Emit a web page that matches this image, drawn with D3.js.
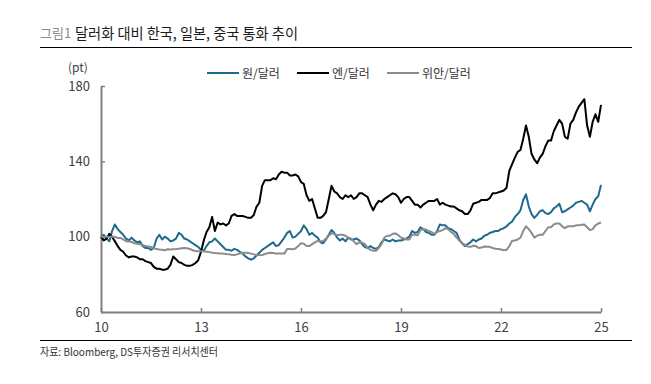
<!DOCTYPE html>
<html>
<head>
<meta charset="utf-8">
<script src="https://cdn.jsdelivr.net/npm/d3@7"></script>
<style>
  body { margin: 0; background: #fff; }
  text { font-family: "Noto Sans CJK KR", "Noto Sans", sans-serif; }
</style>
</head>
<body>
<div id="chart"></div>
<script>
// monthly index values, Jan 2010 = 100, last point = start of 2025
var startYear = 2010;

var won = [
  100, 101, 99, 97.5, 103, 106.5, 104, 102.5, 101, 99, 98, 99.5,
  98, 97, 97.5, 95, 94, 94, 93, 94, 99, 101, 98.5, 100,
  99, 97.5, 98, 99, 102, 101, 99, 98.5, 97.5, 96.5, 95.5, 94.5,
  93, 92.5, 95, 97, 97.5, 99, 97.5, 96, 94.5, 93, 93, 92.5,
  93.5, 93, 92, 91, 89.5, 88.5, 87.8, 88.5, 90, 91.5, 93, 94,
  95, 96, 97, 95, 95.5, 97.5, 99.5, 102, 103, 99.5, 100, 101.5,
  103, 106, 104, 101, 102, 100.5, 99.5, 97, 96.5, 98.5, 101, 103.5,
  102, 99.5, 98, 99, 97.5, 99.5, 98.5, 98.5, 99, 98, 96, 94.5,
  94, 95, 94, 93.5, 94.5, 97, 98.5, 98, 97.5, 98.5, 97.5, 98,
  98, 98.5, 99, 100, 103, 102, 102.5, 105, 104, 102.5, 102, 101,
  101, 103, 106.5, 106, 106, 104.5, 104, 103, 102, 98.5, 96.5, 95,
  96, 97, 98.5, 97.5, 98.5, 99, 100.5, 101, 102, 102.5, 103, 103,
  104, 104.5, 105.5, 107, 108, 110.5, 112, 114, 119.5, 122.5, 116, 112,
  110, 111.5, 113.5, 114, 112.5, 112, 113, 115, 116, 117.5, 113, 113.5,
  114.5, 115.5, 116.5, 118, 118.5, 119, 118, 117, 113.5, 117, 120, 121.5,
  127.5
];

var yen = [
  100, 98, 99, 101.5, 100, 97.5, 95, 93, 92, 90, 89, 89.5,
  89.5, 89, 88, 88, 87, 86.5, 86, 84, 83, 83, 82.5, 82.5,
  83, 85, 89.5, 88, 86.5, 86, 85, 84.5, 84.5, 85, 86, 87.5,
  92, 98, 102.5, 105, 110.5, 103, 107.5, 106.5, 107, 106, 107, 111,
  112, 111, 111, 111, 110.5, 110, 110, 111.5, 116, 118, 127, 130,
  130, 130, 131, 130.5, 133, 134.5, 134, 134, 132.5, 132.5, 133, 132,
  129, 128, 122, 119, 120, 115, 110, 110, 111, 113, 120, 127,
  124, 123, 121, 120, 122, 121, 122, 120, 121, 123, 123, 122,
  121, 117, 114, 117, 119, 118.5, 120, 121, 122, 123, 122.5, 121,
  118, 120, 121, 121, 119, 117, 117, 115.5, 117, 118, 119, 119,
  119, 120, 117, 118, 117, 116.5, 116, 116, 115, 114, 113.5, 112,
  112, 114, 117.5, 118, 118.5, 119.5, 119.5, 119.5, 120.5, 123, 123, 123.5,
  124, 124.5, 126, 135, 138.5, 142, 145, 146, 152, 159, 153, 144,
  141, 139, 142, 144, 148, 151, 151, 156, 159, 162, 160, 153,
  152, 160, 162, 166, 169, 171, 173, 159, 153, 161, 165, 161,
  170
];

var yuan = [
  100, 100, 100, 100, 100, 100, 99.3, 99.3, 98.5, 97.6, 97.4, 97.2,
  96.5, 96.2, 96, 95.6, 95, 94.8, 94.5, 93.8, 93.4, 93.2, 93.1, 92.8,
  93.3, 93.2, 93.3, 93.4, 93.6, 93.8, 94, 93.8, 93.5, 92.8, 92.4, 92.3,
  92.2, 92.2, 92, 91.8, 91.5, 91.3, 91.2, 91.1, 91, 90.8, 90.6, 90.4,
  90.3, 90.6, 91.2, 91.5, 91.5, 91.3, 91, 90.6, 90.3, 90.2, 90.3, 90.8,
  91.2, 91.5, 91.3, 91, 91, 91, 91, 93.5, 93.5, 93.3, 93.7, 95,
  96.5, 96.3, 95, 95, 96, 97, 97.8, 97.5, 97.7, 99, 100.5, 101.8,
  101.5, 100.8, 101, 101, 100.5, 99.5, 99, 97.5, 96, 97, 96.8, 96,
  94, 93, 92.5, 92.5, 94, 96, 99.5, 100.5, 100.5, 101.5, 101.7, 100.8,
  99.5, 99, 98.5, 98.5, 101, 101, 100.8, 103.5, 104, 103.8, 103, 102.5,
  101.5, 102.5, 103, 103.5, 104.5, 104, 102.5, 101.5, 99.5, 98, 96.5, 95.8,
  94.8, 94.6, 95.2, 95, 94, 94.2, 94.8, 94.7, 94.6, 94, 93.6, 93.4,
  93.2, 92.8, 93, 95, 97.8, 98, 98.5, 99.5, 103, 105.5, 104, 102,
  99.5, 100.5, 101, 101, 103, 105, 105, 106.5, 107, 107, 105.5, 104.5,
  105.5, 105.5, 105.5, 106, 106, 106.3, 106.5, 105, 103.5, 104, 106, 107,
  107.5
];

var seriesNames = ["원/달러", "엔/달러", "위안/달러"];
var seriesColors = ["#1f6b8e", "#000000", "#8c8c8c"];
var xTicks = [2010, 2013, 2016, 2019, 2022, 2025];
var xTickLabels = ["10", "13", "16", "19", "22", "25"];
var yTicks = [60, 100, 140, 180];

var width = 651, height = 384;
var margin = {left: 101, right: 50, top: 86, bottom: 72};
var axisColor = "#7f7f7f";
var textColor = "#404040";

var svg = d3.select("#chart").append("svg")
    .attr("width", width)
    .attr("height", height);

var x = d3.scaleLinear().domain([2010, 2025]).range([margin.left, width - margin.right]);
var y = d3.scaleLinear().domain([60, 180]).range([height - margin.bottom, margin.top]);

// title
svg.append("text")
    .attr("x", 40).attr("y", 38)
    .style("font-size", "13px")
    .style("fill", "#8a8a8a")
    .text("그림1");
svg.append("text")
    .attr("x", 75).attr("y", 39)
    .attr("textLength", 223)
    .attr("lengthAdjust", "spacingAndGlyphs")
    .style("font-size", "15px")
    .style("fill", "#1a1a1a")
    .text("달러화 대비 한국, 일본, 중국 통화 추이");
svg.append("line")
    .attr("x1", 40).attr("x2", 632)
    .attr("y1", 47.5).attr("y2", 47.5)
    .style("stroke", "#000").style("stroke-width", 1);

// footer
svg.append("line")
    .attr("x1", 40).attr("x2", 632)
    .attr("y1", 340.5).attr("y2", 340.5)
    .style("stroke", "#000").style("stroke-width", 1);
svg.append("text")
    .attr("x", 40).attr("y", 356)
    .attr("textLength", 178)
    .attr("lengthAdjust", "spacingAndGlyphs")
    .style("font-size", "11px")
    .style("fill", "#333")
    .text("자료: Bloomberg, DS투자증권 리서치센터");

// unit
svg.append("text")
    .attr("x", 68).attr("y", 72)
    .style("font-size", "12px")
    .style("fill", textColor)
    .text("(pt)");

// axes
var yAxis = svg.append("g")
    .attr("transform", "translate(" + margin.left + ",0)")
    .call(d3.axisLeft(y).tickValues(yTicks).tickSize(-4).tickSizeOuter(0).tickPadding(11));

var xAxis = svg.append("g")
    .attr("transform", "translate(0," + (height - margin.bottom) + ")")
    .call(d3.axisBottom(x).tickValues(xTicks).tickSize(-4).tickSizeOuter(0).tickPadding(11)
        .tickFormat(function(d, i) { return xTickLabels[i]; }));

[xAxis, yAxis].forEach(function(ax) {
  ax.select(".domain").style("stroke", axisColor).style("stroke-width", 2);
  ax.selectAll(".tick line").style("stroke", axisColor).style("stroke-width", 1.5);
  ax.selectAll(".tick text")
    .style("font-family", "'Noto Sans CJK KR', sans-serif")
    .style("font-size", "13px")
    .style("fill", textColor);
});

// lines
var allSeries = [won, yen, yuan];
var line = d3.line()
    .x(function(d, i) { return x(startYear + i / 12); })
    .y(function(d) { return y(d); });

allSeries.forEach(function(s, k) {
  svg.append("path")
      .datum(s)
      .attr("d", line)
      .style("fill", "none")
      .style("stroke", seriesColors[k])
      .style("stroke-width", 2)
      .style("stroke-linejoin", "round");
});

// legend
var legendX = [207, 297, 387];
var legend = svg.selectAll(".legend")
    .data(seriesNames)
  .enter().append("g")
    .attr("class", "legend")
    .attr("transform", function(d, i) { return "translate(" + legendX[i] + ",73)"; });

legend.append("line")
    .attr("x1", 0).attr("x2", 32)
    .attr("y1", 0).attr("y2", 0)
    .style("stroke", function(d, i) { return seriesColors[i]; })
    .style("stroke-width", 2);

legend.append("text")
    .attr("x", 35).attr("y", 4.5)
    .style("font-size", "12px")
    .style("fill", "#333")
    .text(function(d) { return d; });
</script>
</body>
</html>
